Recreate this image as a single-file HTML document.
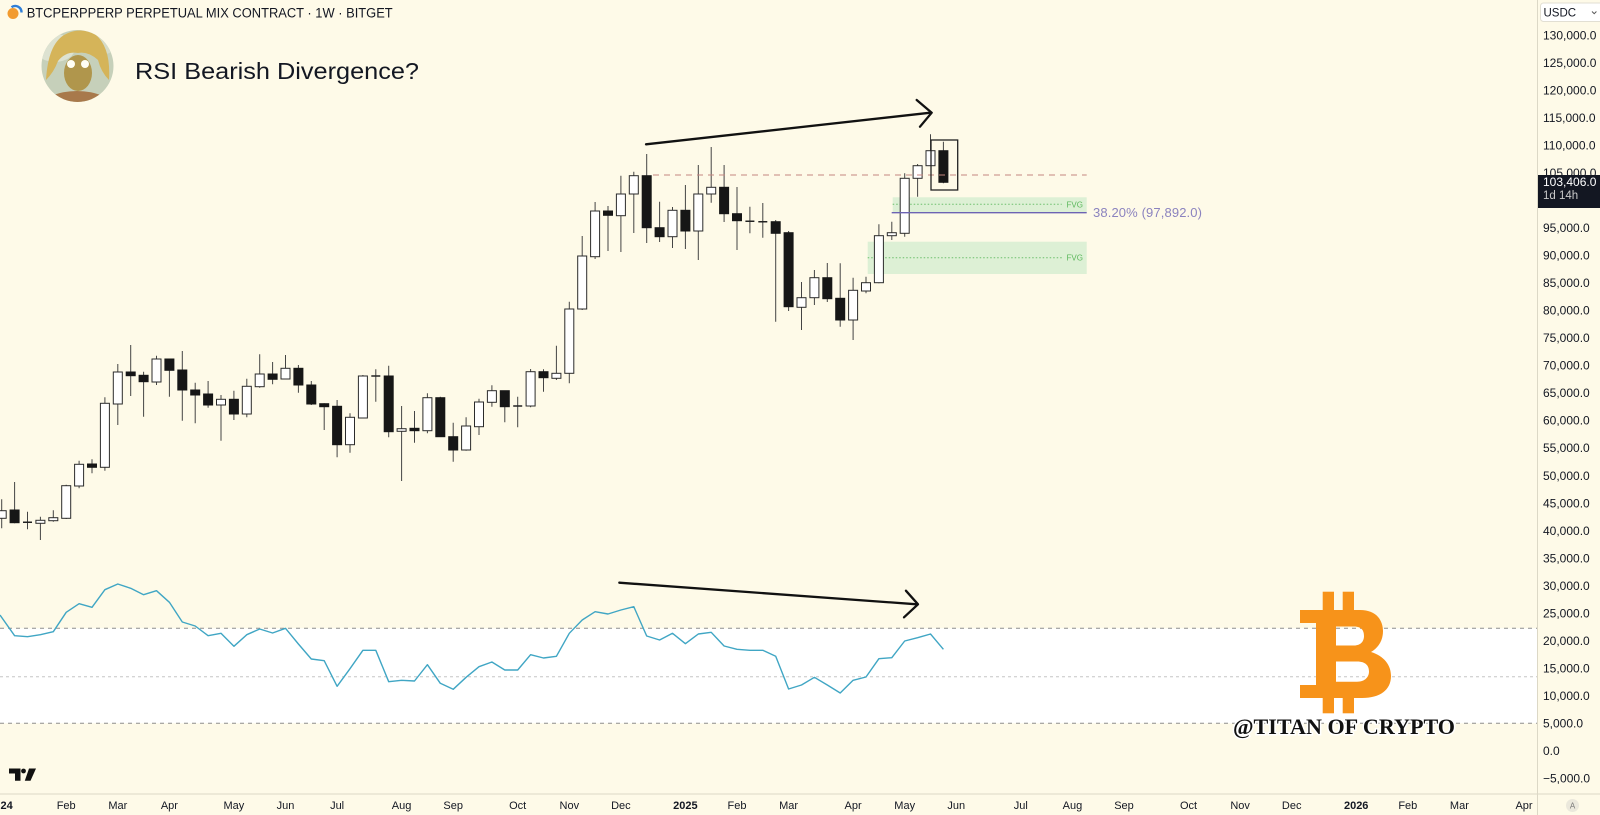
<!DOCTYPE html>
<html><head><meta charset="utf-8">
<style>html,body{margin:0;padding:0;background:#fefae8;}svg{display:block}</style>
</head><body>
<svg width="1600" height="815" viewBox="0 0 1600 815" xmlns="http://www.w3.org/2000/svg" font-family="'Liberation Sans', sans-serif">
<defs>
<clipPath id="av"><circle cx="77.5" cy="66" r="36"/></clipPath>
<clipPath id="plot"><rect x="0" y="0" width="1537" height="794"/></clipPath>
</defs>
<rect x="0" y="0" width="1600" height="815" fill="#fefae8"/>

<g clip-path="url(#plot)">
<rect x="0" y="628.3" width="1537" height="95" fill="#ffffff"/>
<line x1="0" y1="628.3" x2="1537" y2="628.3" stroke="#8e8e8e" stroke-width="1" stroke-dasharray="4 4"/>
<line x1="0" y1="676.7" x2="1537" y2="676.7" stroke="#c6c6c6" stroke-width="1" stroke-dasharray="3 3"/>
<line x1="0" y1="723.3" x2="1537" y2="723.3" stroke="#8e8e8e" stroke-width="1" stroke-dasharray="4 4"/>

<rect x="892.7" y="197.3" width="194" height="15.4" fill="#ddf0d5"/>
<rect x="867.7" y="241.7" width="219" height="32.3" fill="#ddf0d5"/>
<line x1="892.7" y1="204.3" x2="1061.7" y2="204.3" stroke="#6cbf6c" stroke-width="1" stroke-dasharray="1.5 2"/>
<line x1="867.7" y1="257.7" x2="1061.7" y2="257.7" stroke="#6cbf6c" stroke-width="1" stroke-dasharray="1.5 2"/>
<text x="1066.5" y="207.3" font-size="8" fill="#5cb85c">FVG</text>
<text x="1066.5" y="260.7" font-size="8" fill="#5cb85c">FVG</text>

<path fill="none" stroke="#444" stroke-width="1" d="M1.7 499.3V528.3M14.6 482V523.3M27.5 511.7V529.3M40.4 516.7V540M53.3 510.3V521.7M66.2 484.7V519M79.1 460.7V488.3M92 459.3V473.3M104.9 397.3V470.7M117.8 364V425M130.7 345V396M143.6 371.7V416.7M156.5 355.7V385M169.4 359V396.7M182.3 351V420.7M195.2 382.7V423.3M208.1 381V407.7M221 395V440.7M233.9 390.7V420M246.8 378.7V417.3M259.7 354.3V387.7M272.6 362V384.3M285.5 355V379.3M298.4 365V392.7M311.3 381V405M324.2 403.3V430M337.1 400V457.3M350 413.3V452.7M362.9 375V418M375.8 369.3V401.7M388.7 365.7V437.3M401.6 406V481M414.5 411V442.7M427.4 393.3V433.3M440.3 396.7V436.7M453.2 422.7V461.7M466.1 417.3V450.7M479 398.7V435M491.9 385.3V406.7M504.8 390.7V422.3M517.7 396.7V427.3M530.6 369V407.3M543.5 369.3V391.7M556.4 345.7V380M569.3 301.7V383.3M582.2 236V310M595.1 202V259M608 206V251M620.9 175.7V252M633.8 171.7V233M646.7 154V243M659.6 201.7V242M672.5 207V248M685.4 185V249M698.3 165V260M711.2 147V202.7M724.1 165V222M737 187V250M749.9 206.7V233.3M762.8 203V237.7M775.7 220V321.7M788.6 231V311M801.5 282V330M814.4 270V305M827.3 263V302M840.2 263.3V326.7M853.1 277.7V340M866 276.7V293.3M878.9 224.3V283.3M891.8 221.7V240M904.7 173.3V236.7M917.6 164V196.7M930.5 134.3V165.7M943.4 141.7V183.3"/>

<g fill="#ffffff" stroke="#2b2b2b" stroke-width="1">
<rect x="-2.8" y="510.7" width="9" height="7.6"/>
<rect x="35.9" y="520.3" width="9" height="3"/>
<rect x="48.8" y="517.7" width="9" height="3"/>
<rect x="61.7" y="485.7" width="9" height="32.6"/>
<rect x="74.6" y="464.3" width="9" height="21.7"/>
<rect x="100.4" y="403.3" width="9" height="64"/>
<rect x="113.3" y="372" width="9" height="32"/>
<rect x="152" y="359" width="9" height="23"/>
<rect x="216.5" y="399.3" width="9" height="5.7"/>
<rect x="242.3" y="386.3" width="9" height="27.7"/>
<rect x="255.2" y="374" width="9" height="12.7"/>
<rect x="281" y="368.3" width="9" height="10.7"/>
<rect x="345.5" y="417.3" width="9" height="27.4"/>
<rect x="358.4" y="376" width="9" height="42"/>
<rect x="397.1" y="428.7" width="9" height="2.6"/>
<rect x="422.9" y="397.7" width="9" height="33"/>
<rect x="461.6" y="426" width="9" height="24"/>
<rect x="474.5" y="402" width="9" height="24.7"/>
<rect x="487.4" y="390.7" width="9" height="11.6"/>
<rect x="526.1" y="371.7" width="9" height="34.3"/>
<rect x="551.9" y="373.3" width="9" height="5"/>
<rect x="564.8" y="309" width="9" height="64.3"/>
<rect x="577.7" y="256" width="9" height="53"/>
<rect x="590.6" y="211" width="9" height="45.7"/>
<rect x="616.4" y="194" width="9" height="21.7"/>
<rect x="629.3" y="175.7" width="9" height="18.3"/>
<rect x="668" y="210.3" width="9" height="26.4"/>
<rect x="693.8" y="194" width="9" height="37"/>
<rect x="706.7" y="187.3" width="9" height="6.7"/>
<rect x="797" y="297.7" width="9" height="9.6"/>
<rect x="809.9" y="277.7" width="9" height="20"/>
<rect x="848.6" y="290.3" width="9" height="29.7"/>
<rect x="861.5" y="282.7" width="9" height="8.3"/>
<rect x="874.4" y="235.7" width="9" height="47"/>
<rect x="887.3" y="232.7" width="9" height="3"/>
<rect x="900.2" y="178.3" width="9" height="55"/>
<rect x="913.1" y="165.7" width="9" height="12.6"/>
<rect x="926" y="150.7" width="9" height="15"/>
</g>

<g fill="#161616" stroke="#161616" stroke-width="1">
<rect x="10.1" y="510" width="9" height="12.7"/>
<rect x="87.5" y="464" width="9" height="3.3"/>
<rect x="126.2" y="372" width="9" height="3.7"/>
<rect x="139.1" y="375.3" width="9" height="6.4"/>
<rect x="164.9" y="359" width="9" height="11.3"/>
<rect x="177.8" y="370" width="9" height="20"/>
<rect x="190.7" y="390" width="9" height="5"/>
<rect x="203.6" y="394" width="9" height="11"/>
<rect x="229.4" y="399.3" width="9" height="14.7"/>
<rect x="268.1" y="374" width="9" height="5.3"/>
<rect x="293.9" y="368.3" width="9" height="16.7"/>
<rect x="306.8" y="385" width="9" height="19"/>
<rect x="319.7" y="403.7" width="9" height="3"/>
<rect x="332.6" y="406.3" width="9" height="38.4"/>
<rect x="384.2" y="376" width="9" height="55.7"/>
<rect x="410" y="428.3" width="9" height="2.4"/>
<rect x="435.8" y="397.7" width="9" height="39"/>
<rect x="448.7" y="436.7" width="9" height="13.3"/>
<rect x="500.3" y="390.7" width="9" height="16"/>
<rect x="539" y="371.7" width="9" height="6"/>
<rect x="603.5" y="211" width="9" height="4.3"/>
<rect x="642.2" y="175.7" width="9" height="52"/>
<rect x="655.1" y="227.7" width="9" height="9"/>
<rect x="680.9" y="210.3" width="9" height="20.7"/>
<rect x="719.6" y="187.3" width="9" height="26.4"/>
<rect x="732.5" y="213.7" width="9" height="7"/>
<rect x="771.2" y="221.7" width="9" height="11.6"/>
<rect x="784.1" y="232.7" width="9" height="74"/>
<rect x="822.8" y="277.7" width="9" height="21"/>
<rect x="835.7" y="298.3" width="9" height="21.7"/>
<rect x="938.9" y="150.7" width="9" height="31.6"/>
</g>

<path fill="none" stroke="#222" stroke-width="1.5" d="M23 522.3H32M371.3 376H380.3M513.2 406H522.2M745.4 221.3H754.4M758.3 221.7H767.3"/>

<line x1="653" y1="175" x2="1086.7" y2="175" stroke="#c4857f" stroke-width="1" stroke-dasharray="6 5"/>
<line x1="891.7" y1="212.7" x2="1086.7" y2="212.7" stroke="#6c63b3" stroke-width="1.4"/>
<text x="1093" y="217.2" font-size="13" fill="#8b83bf" textLength="109">38.20% (97,892.0)</text>

<rect x="931" y="140" width="26.7" height="50" fill="none" stroke="#222" stroke-width="1.3"/>

<g fill="none" stroke="#111" stroke-width="2.3" stroke-linecap="round" stroke-linejoin="round">
<line x1="646" y1="144.3" x2="930.5" y2="112.7"/>
<polyline points="916.7,100 931.7,112.7 920,126.7"/>
<line x1="619.3" y1="582.7" x2="917" y2="604.3"/>
<polyline points="905.9,590.7 918,604.3 904,617.3"/>
</g>

<polyline fill="none" stroke="#40a6c4" stroke-width="1.4" stroke-linejoin="round" points="0,615 14.6,635.7 27.5,636.7 40.4,634.7 53.3,631.7 66.2,612.3 79.1,603.7 92,607.3 104.9,589.7 117.8,584 130.7,588.3 143.6,594.7 156.5,590.7 169.4,602.3 182.3,622 195.2,626 208.1,635.7 221,633.3 233.9,646.3 246.8,634.7 259.7,629 272.6,633 285.5,628.3 298.4,644 311.3,659 324.2,660.7 337.1,686.3 350,668.7 362.9,650.3 375.8,650.3 388.7,681.7 401.6,680.3 414.5,681 427.4,664.7 440.3,683.3 453.2,689.3 466.1,677.3 479,666.7 491.9,662 504.8,670 517.7,670 530.6,654.7 543.5,658 556.4,656.3 569.3,633.3 582.2,620 595.1,611.7 608,614 620.9,610 633.8,606.7 646.7,636 659.6,640 672.5,633.3 685.4,643.7 698.3,634 711.2,632.3 724.1,646 737,649.3 749.9,650.3 762.8,650.3 775.7,656.3 788.6,689 801.5,685 814.4,677.3 827.3,685 840.2,693 853.1,680.3 866,677 878.9,658.7 891.8,657.7 904.7,641 917.6,637.7 930.5,634 943.4,649.3"/>

<g fill="#f7931a">
<rect x="1322.7" y="591.7" width="11.3" height="21"/>
<rect x="1342.7" y="591.7" width="11.3" height="21"/>
<rect x="1322.7" y="695" width="11.3" height="18.3"/>
<rect x="1342.7" y="695" width="11.3" height="18.3"/>
<path fill-rule="evenodd" d="M1300 610L1360 610C1377 610 1383 621 1383 631C1383 641 1378 648 1371 652C1384 656 1391 665 1391 676C1391 690 1380 698 1362 698L1300 698L1300 685L1316 685L1316 623L1300 623Z M1336 626.5L1354 626.5C1362 626.5 1364 631 1364 636C1364 641 1361 645.5 1354 645.5L1336 645.5Z M1336 661.5L1357 661.5C1366 661.5 1369 666 1369 671.5C1369 677 1365 681.7 1357 681.7L1336 681.7Z"/>
</g>
<text x="1233" y="734" font-family="'Liberation Serif', serif" font-weight="bold" font-size="22" fill="#111" stroke="#ffffff" stroke-width="3" paint-order="stroke" textLength="222" lengthAdjust="spacingAndGlyphs">@TITAN OF CRYPTO</text>

<g fill="#111">
<path d="M9 768.5H20.5V780.8H15V773.5H9Z"/>
<circle cx="23.5" cy="771" r="2.4"/>
<path d="M29 768.5H36L30.5 780.8H24.8Z"/>
</g>
</g>

<circle cx="13" cy="13.5" r="5.5" fill="#f29b2f"/>
<path d="M11.5 7.2A6.3 6.3 0 0 1 21.5 12.5" fill="none" stroke="#2f7fd8" stroke-width="2.4"/>
<text x="26.7" y="17.7" font-size="13.5" fill="#131722" textLength="366" lengthAdjust="spacingAndGlyphs">BTCPERPPERP PERPETUAL MIX CONTRACT · 1W · BITGET</text>

<g clip-path="url(#av)">
<rect x="40" y="28" width="76" height="76" fill="#c6d0ba"/>
<ellipse cx="55" cy="48" rx="20" ry="14" fill="#dde2d1"/>
<ellipse cx="104" cy="44" rx="12" ry="10" fill="#d5dbc8"/>
<path d="M46 80Q48 45 64 35Q80 26 96 35Q111 48 109 80Q101 72 98 60Q88 51 78 53Q66 51 58 61Q54 72 46 80Z" fill="#d5b459"/>
<ellipse cx="78" cy="73" rx="14" ry="18" fill="#b0964c"/>
<circle cx="71" cy="64" r="4" fill="#fffef5"/>
<circle cx="85" cy="64" r="4" fill="#fffef5"/>
<ellipse cx="77" cy="108" rx="36" ry="17" fill="#a8794b"/>
</g>
<text x="135" y="79" font-size="23" fill="#131722" textLength="284" lengthAdjust="spacingAndGlyphs">RSI Bearish Divergence?</text>

<line x1="1537.5" y1="0" x2="1537.5" y2="815" stroke="#dcd8c6" stroke-width="1"/>
<line x1="0" y1="794" x2="1600" y2="794" stroke="#dcd8c6" stroke-width="1"/>

<g font-size="12" fill="#131722">
<text x="1543" y="39.4">130,000.0</text>
<text x="1543" y="66.9">125,000.0</text>
<text x="1543" y="94.4">120,000.0</text>
<text x="1543" y="121.9">115,000.0</text>
<text x="1543" y="149.5">110,000.0</text>
<text x="1543" y="177">105,000.0</text>
<text x="1543" y="204.5">100,000.0</text>
<text x="1543" y="232">95,000.0</text>
<text x="1543" y="259.5">90,000.0</text>
<text x="1543" y="287.1">85,000.0</text>
<text x="1543" y="314.6">80,000.0</text>
<text x="1543" y="342.1">75,000.0</text>
<text x="1543" y="369.7">70,000.0</text>
<text x="1543" y="397.2">65,000.0</text>
<text x="1543" y="424.7">60,000.0</text>
<text x="1543" y="452.2">55,000.0</text>
<text x="1543" y="479.8">50,000.0</text>
<text x="1543" y="507.3">45,000.0</text>
<text x="1543" y="534.8">40,000.0</text>
<text x="1543" y="562.3">35,000.0</text>
<text x="1543" y="589.9">30,000.0</text>
<text x="1543" y="617.4">25,000.0</text>
<text x="1543" y="644.9">20,000.0</text>
<text x="1543" y="672.4">15,000.0</text>
<text x="1543" y="700">10,000.0</text>
<text x="1543" y="727.5">5,000.0</text>
<text x="1543" y="755">0.0</text>
<text x="1543" y="782.6">−5,000.0</text>
</g>

<rect x="1538" y="175" width="62" height="33" fill="#131722"/>
<text x="1543" y="186" font-size="12" fill="#ffffff">103,406.0</text>
<text x="1543" y="199" font-size="11.5" fill="#c9c9c9">1d 14h</text>

<rect x="1540.5" y="3" width="62" height="18.5" rx="3" fill="#ffffff" stroke="#e2dfd3" stroke-width="1"/>
<text x="1543.5" y="16.3" font-size="11.5" fill="#131722">USDC</text>
<path d="M1592 11.5l2.2 2.2 2.2-2.2" fill="none" stroke="#555" stroke-width="1"/>

<g font-size="11" fill="#131722" text-anchor="middle">
<text x="0.5" y="809" font-weight="bold" text-anchor="start">24</text>
<text x="66.2" y="809">Feb</text>
<text x="117.8" y="809">Mar</text>
<text x="169.4" y="809">Apr</text>
<text x="233.9" y="809">May</text>
<text x="285.5" y="809">Jun</text>
<text x="337.1" y="809">Jul</text>
<text x="401.6" y="809">Aug</text>
<text x="453.2" y="809">Sep</text>
<text x="517.7" y="809">Oct</text>
<text x="569.3" y="809">Nov</text>
<text x="620.9" y="809">Dec</text>
<text x="685.4" y="809" font-weight="bold">2025</text>
<text x="737" y="809">Feb</text>
<text x="788.6" y="809">Mar</text>
<text x="853.1" y="809">Apr</text>
<text x="904.7" y="809">May</text>
<text x="956.3" y="809">Jun</text>
<text x="1020.8" y="809">Jul</text>
<text x="1072.4" y="809">Aug</text>
<text x="1124" y="809">Sep</text>
<text x="1188.5" y="809">Oct</text>
<text x="1240.1" y="809">Nov</text>
<text x="1291.7" y="809">Dec</text>
<text x="1356.2" y="809" font-weight="bold">2026</text>
<text x="1407.8" y="809">Feb</text>
<text x="1459.4" y="809">Mar</text>
<text x="1524" y="809">Apr</text>
</g>
<circle cx="1572.5" cy="805.5" r="6.5" fill="#ebe8dc"/>
<text x="1572.5" y="808.5" font-size="8" fill="#777" text-anchor="middle">A</text>
</svg>
</body></html>
